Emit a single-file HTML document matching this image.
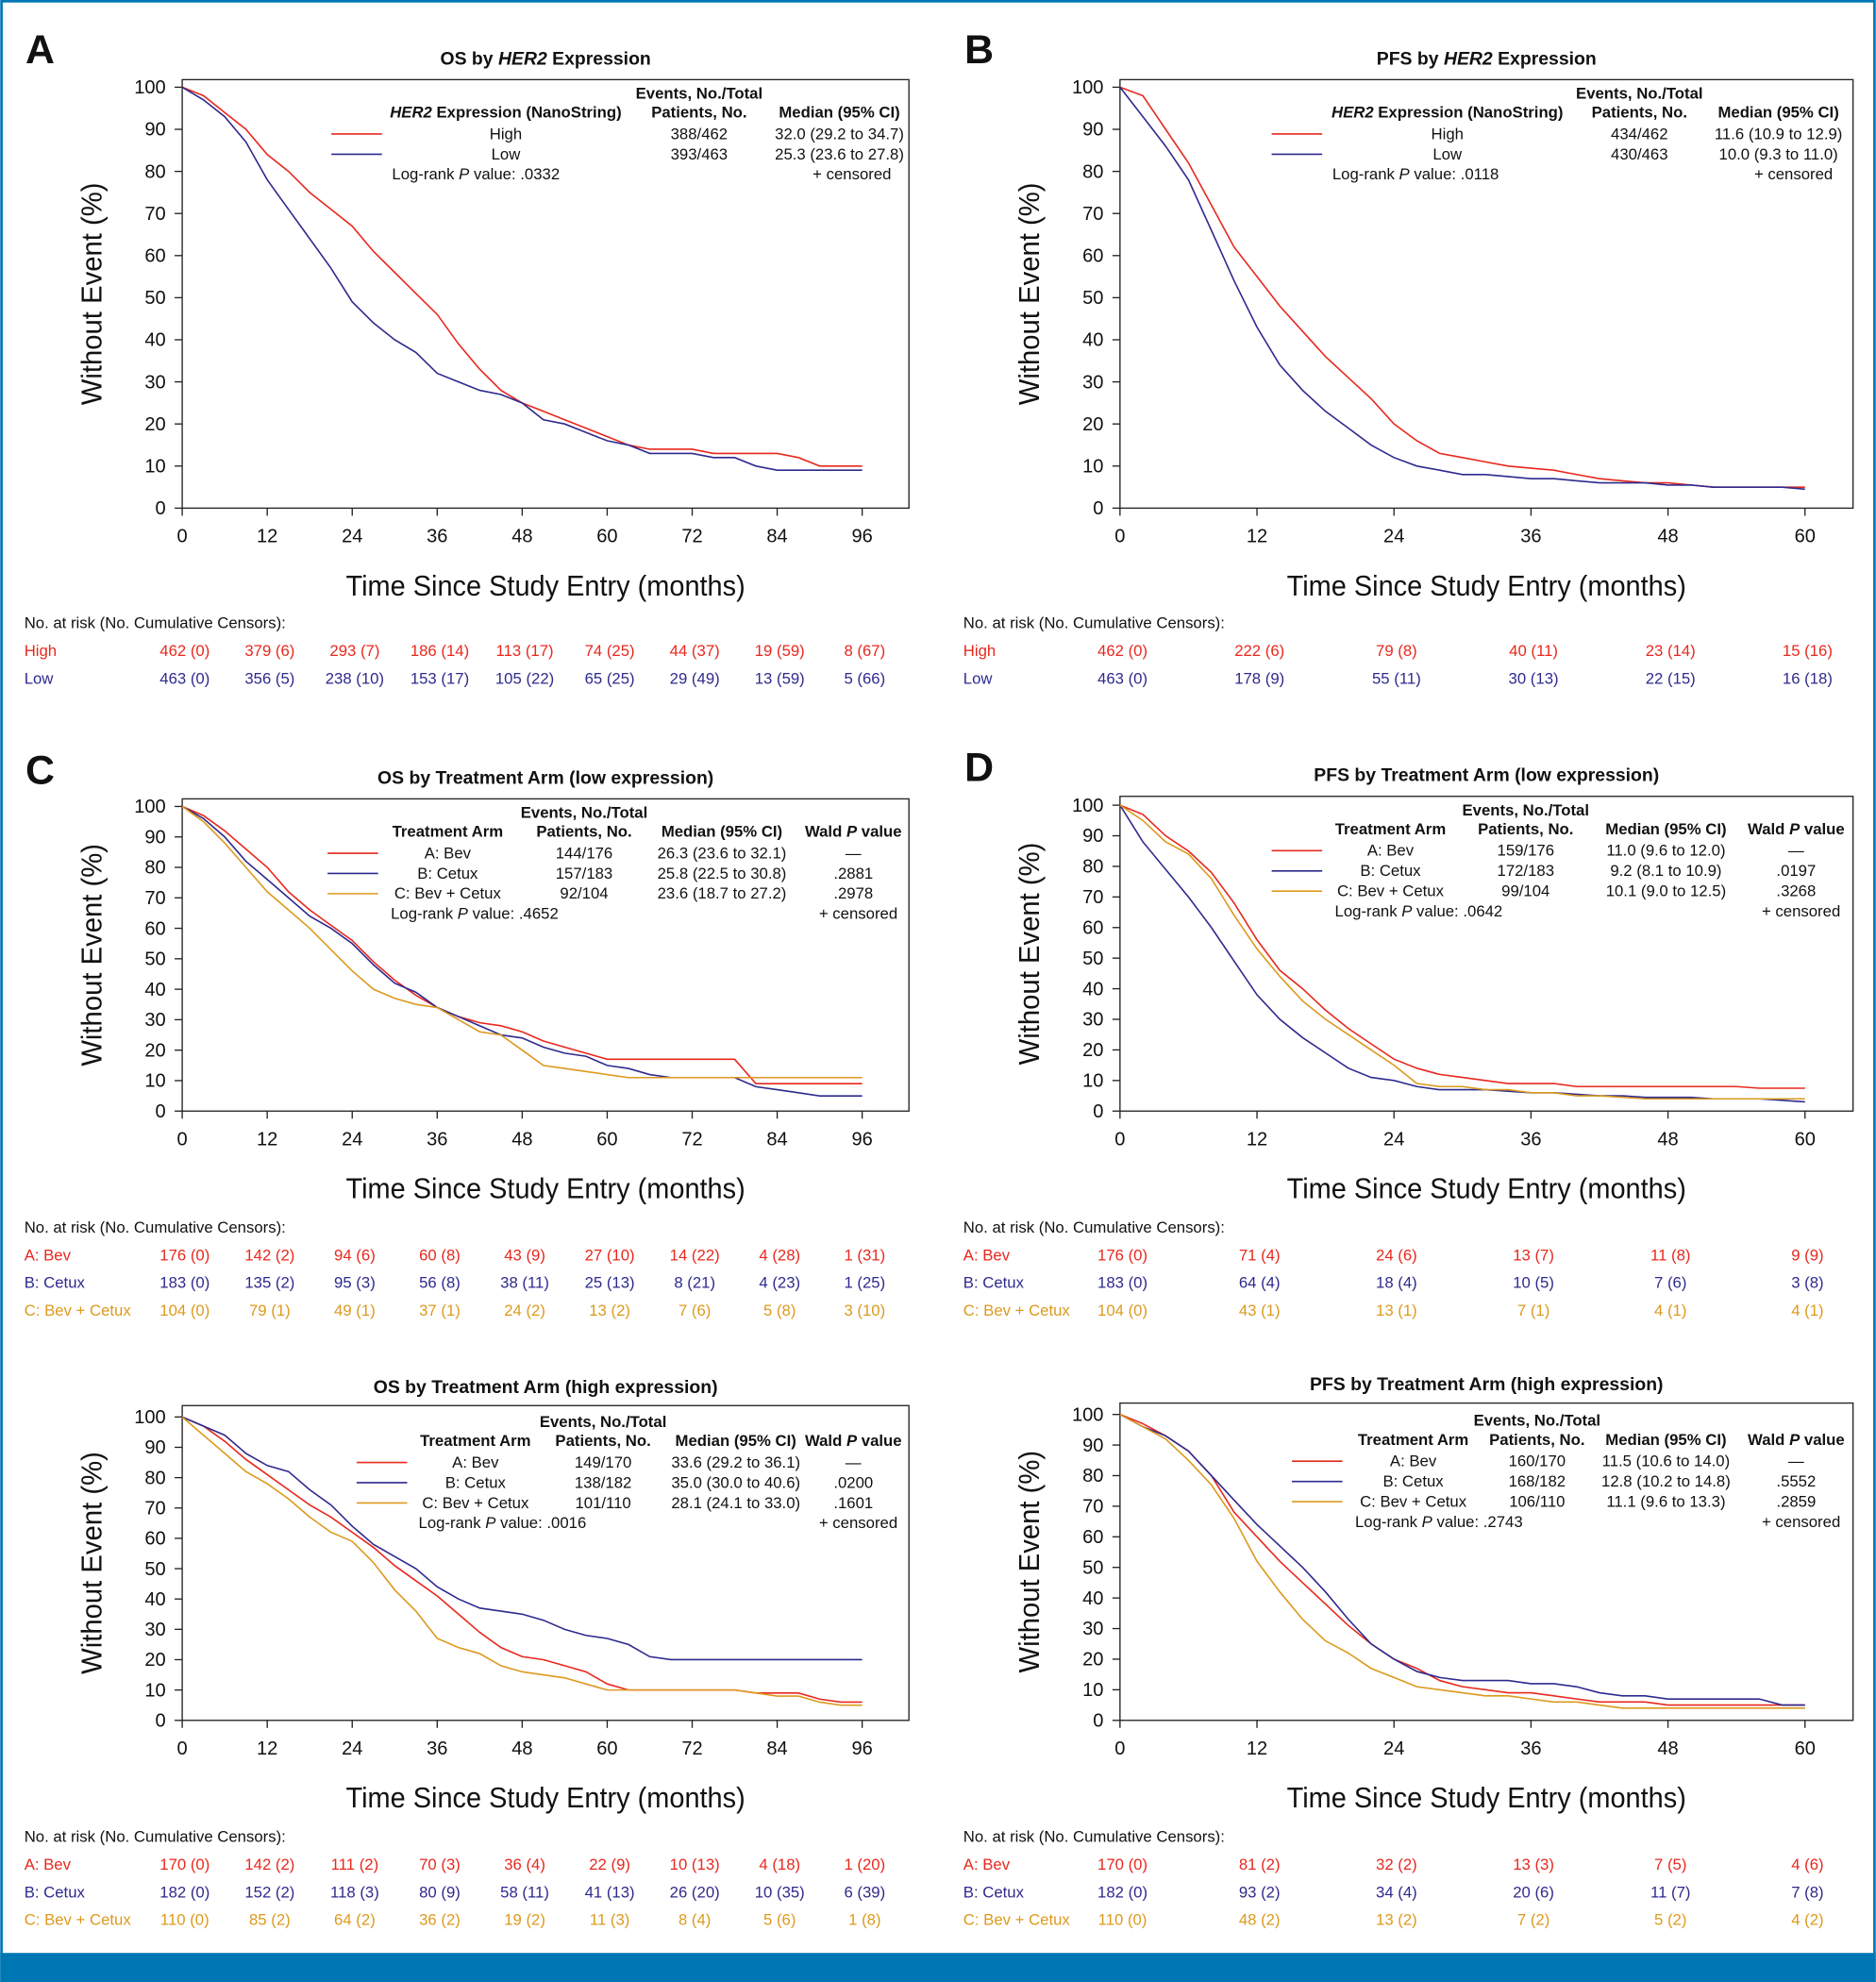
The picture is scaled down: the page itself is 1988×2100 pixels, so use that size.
<!DOCTYPE html>
<html><head><meta charset="utf-8">
<style>
html,body{margin:0;padding:0;background:#fff;}
svg{display:block;}
text{font-family:"Liberation Sans Narrow","Liberation Sans",sans-serif;}
</style></head>
<body>
<svg id="fig" xmlns="http://www.w3.org/2000/svg" width="1988" height="2100" viewBox="0 0 1484 1568">
<rect x="0" y="0" width="1484" height="1568" fill="#fff"/>
<rect x="1" y="1" width="1482" height="1566" fill="none" stroke="#0077b5" stroke-width="2"/>
<rect x="0" y="1545" width="1484" height="23" fill="#0077b5"/>
</svg>
<script>
// ---- data ----
const osTimes = [0,3,6,9,12,15,18,21,24,27,30,33,36,39,42,45,48,51,54,57,60,63,66,69,72,75,78,81,84,87,90,93,96];
const pfsTimes = [0,2,4,6,8,10,12,14,16,18,20,22,24,26,28,30,32,34,36,38,40,42,44,46,48,50,52,54,56,58,60];
const aHigh = [100,98,94,90,84,80,75,71,67,61,56,51,46,39,33,28,25,23,21,19,17,15,14,14,14,13,13,13,13,12,10,10,10];
const aLow  = [100,97,93,87,78,71,64,57,49,44,40,37,32,30,28,27,25,21,20,18,16,15,13,13,13,12,12,10,9,9,9,9,9];
const bHigh = [100,98,90,82,72,62,55,48,42,36,31,26,20,16,13,12,11,10,9.5,9,8,7,6.5,6,6,5.5,5,5,5,5,5];
const bLow  = [100,93,86,78,66,54,43,34,28,23,19,15,12,10,9,8,8,7.5,7,7,6.5,6,6,6,5.5,5.5,5,5,5,5,4.5];
const cBev  = [100,97,92,86,80,72,66,61,56,49,43,38,34,31,29,28,26,23,21,19,17,17,17,17,17,17,17,9,9,9,9,9,9];
const cCet  = [100,96,90,82,76,70,64,60,55,48,42,39,34,31,28,25,24,21,19,18,15,14,12,11,11,11,11,8,7,6,5,5,5];
const cBoth = [100,95,88,80,72,66,60,53,46,40,37,35,34,30,26,25,20,15,14,13,12,11,11,11,11,11,11,11,11,11,11,11,11];
const dBev  = [100,97,90,85,78,68,56,46,40,33,27,22,17,14,12,11,10,9,9,9,8,8,8,8,8,8,8,8,7.5,7.5,7.5];
const dCet  = [100,88,79,70,60,49,38,30,24,19,14,11,10,8,7,7,7,6.5,6,6,5.5,5,5,4.5,4.5,4.5,4,4,4,3.5,3];
const dBoth = [100,95,88,84,76,64,53,44,36,30,25,20,15,9,8,8,7,7,6,6,5,5,4.5,4,4,4,4,4,4,4,4];
const eBev  = [100,97,92,86,81,76,71,67,62,57,51,46,41,35,29,24,21,20,18,16,12,10,10,10,10,10,10,9,9,9,7,6,6];
const eCet  = [100,97,94,88,84,82,76,71,64,58,54,50,44,40,37,36,35,33,30,28,27,25,21,20,20,20,20,20,20,20,20,20,20];
const eBoth = [100,94,88,82,78,73,67,62,59,52,43,36,27,24,22,18,16,15,14,12,10,10,10,10,10,10,10,9,8,8,6,5,5];
const fBev  = [100,97,93,88,80,68,60,52,45,38,31,25,20,17,13,11,10,9,9,8,7,6,6,6,5,5,5,5,5,5,5];
const fCet  = [100,96,93,88,80,72,64,57,50,42,33,25,20,16,14,13,13,13,12,12,11,9,8,8,7,7,7,7,7,5,5];
const fBoth = [100,96,92,85,77,66,52,42,33,26,22,17,14,11,10,9,8,8,7,6,6,5,4,4,4,4,4,4,4,4,4];
const osTicks = [0,12,24,36,48,60,72,84,96];
const pfsTicks = [0,12,24,36,48,60];
const yTicks = [0,10,20,30,40,50,60,70,80,90,100];
const riskAHigh = ["462 (0)","379 (6)","293 (7)","186 (14)","113 (17)","74 (25)","44 (37)","19 (59)","8 (67)"];
const riskALow  = ["463 (0)","356 (5)","238 (10)","153 (17)","105 (22)","65 (25)","29 (49)","13 (59)","5 (66)"];
const riskBHigh = ["462 (0)","222 (6)","79 (8)","40 (11)","23 (14)","15 (16)"];
const riskBLow  = ["463 (0)","178 (9)","55 (11)","30 (13)","22 (15)","16 (18)"];
const riskCBev  = ["176 (0)","142 (2)","94 (6)","60 (8)","43 (9)","27 (10)","14 (22)","4 (28)","1 (31)"];
const riskCCet  = ["183 (0)","135 (2)","95 (3)","56 (8)","38 (11)","25 (13)","8 (21)","4 (23)","1 (25)"];
const riskCBoth = ["104 (0)","79 (1)","49 (1)","37 (1)","24 (2)","13 (2)","7 (6)","5 (8)","3 (10)"];
const riskDBev  = ["176 (0)","71 (4)","24 (6)","13 (7)","11 (8)","9 (9)"];
const riskDCet  = ["183 (0)","64 (4)","18 (4)","10 (5)","7 (6)","3 (8)"];
const riskDBoth = ["104 (0)","43 (1)","13 (1)","7 (1)","4 (1)","4 (1)"];
const riskEBev  = ["170 (0)","142 (2)","111 (2)","70 (3)","36 (4)","22 (9)","10 (13)","4 (18)","1 (20)"];
const riskECet  = ["182 (0)","152 (2)","118 (3)","80 (9)","58 (11)","41 (13)","26 (20)","10 (35)","6 (39)"];
const riskEBoth = ["110 (0)","85 (2)","64 (2)","36 (2)","19 (2)","11 (3)","8 (4)","5 (6)","1 (8)"];
const riskFBev  = ["170 (0)","81 (2)","32 (2)","13 (3)","7 (5)","4 (6)"];
const riskFCet  = ["182 (0)","93 (2)","34 (4)","20 (6)","11 (7)","7 (8)"];
const riskFBoth = ["110 (0)","48 (2)","13 (2)","7 (2)","5 (2)","4 (2)"];

const RED="#e8281e", BLUE="#2e2a8e", GOLD="#dc9a1e";
const svg=document.getElementById('fig');
const NS="http://www.w3.org/2000/svg";
function mk(tag,attrs,parent){const e=document.createElementNS(NS,tag);for(const k in attrs)e.setAttribute(k,attrs[k]);(parent||svg).appendChild(e);return e;}
function txt(x,y,s,size,opts,parent){opts=opts||{};const a={x:x,y:y,'font-size':size,'text-anchor':opts.anchor||'start','font-weight':opts.bold?'bold':'normal',style:'fill:'+(opts.fill||'#111')};if(opts.len){a.textLength=opts.len;a.lengthAdjust='spacingAndGlyphs';}const t=mk('text',a,parent);t.innerHTML=s;return t;}

function panel(cfg){
  const g=mk('g',{});
  
  
  const xs=t=>cfg.x0+(t/cfg.xmax)*(cfg.x1-cfg.x0);
  const ys=v=>cfg.y0-(v/100)*(cfg.y0-cfg.y100);
  const fr=mk('rect',{x:cfg.fl,y:cfg.ft,width:cfg.fr-cfg.fl,height:cfg.y0-cfg.ft,fill:'none',stroke:'#222','stroke-width':1},g);
  
  
  yTicks.forEach(v=>{
    mk('line',{x1:cfg.fl-6,x2:cfg.fl,y1:ys(v),y2:ys(v),stroke:'#222'},g);
    const t=txt(cfg.fl-13,ys(v)+5,String(v),15,{anchor:'end'},g);
    
    
  });
  cfg.ticks.forEach(v=>{
    mk('line',{x1:xs(v),x2:xs(v),y1:cfg.y0,y2:cfg.y0+6,stroke:'#222'},g);
    const t=txt(xs(v),cfg.y0+27,String(v),15,{anchor:'middle'},g);
    
    
  });
  const tt=txt((cfg.fl+cfg.fr)/2,cfg.titleY,cfg.title,14.5,{anchor:'middle',bold:true},g);
  
  
  const xt=txt((cfg.fl+cfg.fr)/2,cfg.y0+69,'Time Since Study Entry (months)',23,{anchor:'middle',len:316},g);
  
  
  const ym=(cfg.y0+cfg.ft)/2;
  const yt=txt(0,0,'Without Event (%)',23,{anchor:'middle',len:176},g);
  yt.setAttribute('transform','translate('+(cfg.fl-64)+','+ym+') rotate(-90)');
  
  
  cfg.series.forEach(s=>{
    let d='';
    s.vals.forEach((v,i)=>{d+=(i?'L':'M')+xs(s.times[i]).toFixed(1)+','+ys(v).toFixed(1);});
    const p=mk('path',{d:d,fill:'none',stroke:s.color,'stroke-width':1.2},g);
    
    
  });
  const rh=txt(cfg.riskX,cfg.riskY,'No. at risk (No. Cumulative Censors):',12.5,{},g);
  
  
  cfg.series.forEach((s,si)=>{
    const ry=cfg.riskY+22*(si+1);
    const l=txt(cfg.riskX,ry,s.label,12.5,{fill:s.color},g);
    
    
    s.risk.forEach((r,i)=>{
      const c=txt(xs(cfg.ticks[i])+2,ry,r,12.5,{anchor:'middle',fill:s.color},g);
      
      
    });
  });
  const L=cfg.legend;
  const lg=mk('g',{},g);
  
  
  txt(L.cols[1],L.y-15,'Events, No./Total',12.5,{anchor:'middle',bold:true},lg);
  L.heads.forEach((h,i)=>txt(L.cols[i],L.y,h,12.5,{anchor:'middle',bold:true},lg));
  L.rows.forEach((r,ri)=>{
    const yy=L.y+17+16*ri;
    const ln=mk('line',{x1:L.lx,x2:L.lx+40,y1:yy-4,y2:yy-4,stroke:cfg.series[ri].color,'stroke-width':1.2},lg);
    
    
    r.forEach((c,i)=>txt(L.cols[i],yy,c,12.5,{anchor:'middle'},lg));
  });
  const ly=L.y+17+16*L.rows.length;
  txt(L.lrx,ly,'Log-rank <tspan font-style="italic">P</tspan> value: '+L.p,12.5,{},lg);
  txt(L.cend,ly,'+  censored',12.5,{anchor:'end'},lg);
  if(cfg.letter){const lt=txt(cfg.letterX,cfg.letterY,cfg.letter,32,{bold:true},g);lt.setAttribute('font-family','Liberation Sans, sans-serif');}
}

const herHead='<tspan font-style="italic">HER2</tspan> Expression (NanoString)';
const armHeads=['Treatment Arm','Patients, No.','Median (95% CI)','Wald <tspan font-style="italic">P</tspan> value'];

panel({name:'panel-a-os-her2',title:'OS by <tspan font-style="italic">HER2</tspan> Expression',titleY:51,letter:'A',letterX:20,letterY:50,
  fl:144,fr:719,ft:63,x0:144,x1:682,y0:402,y100:69,xmax:96,ticks:osTicks,riskX:19,riskY:497,
  series:[{id:'high',color:RED,times:osTimes,vals:aHigh,label:'High',risk:riskAHigh},{id:'low',color:BLUE,times:osTimes,vals:aLow,label:'Low',risk:riskALow}],
  legend:{y:93,cols:[400,553,664],lx:262,heads:[herHead,'Patients, No.','Median (95% CI)'],rows:[['High','388/462','32.0 (29.2 to 34.7)'],['Low','393/463','25.3 (23.6 to 27.8)']],lrx:310,cend:705,p:'.0332'}});
panel({name:'panel-b-pfs-her2',title:'PFS by <tspan font-style="italic">HER2</tspan> Expression',titleY:51,letter:'B',letterX:763,letterY:50,
  fl:886,fr:1466,ft:63,x0:886,x1:1428,y0:402,y100:69,xmax:60,ticks:pfsTicks,riskX:762,riskY:497,
  series:[{id:'high',color:RED,times:pfsTimes,vals:bHigh,label:'High',risk:riskBHigh},{id:'low',color:BLUE,times:pfsTimes,vals:bLow,label:'Low',risk:riskBLow}],
  legend:{y:93,cols:[1145,1297,1407],lx:1006,heads:[herHead,'Patients, No.','Median (95% CI)'],rows:[['High','434/462','11.6 (10.9 to 12.9)'],['Low','430/463','10.0 (9.3 to 11.0)']],lrx:1054,cend:1450,p:'.0118'}});
panel({name:'panel-c-os-arm-low',title:'OS by Treatment Arm (low expression)',titleY:620,letter:'C',letterX:20,letterY:620,
  fl:144,fr:719,ft:632,x0:144,x1:682,y0:879,y100:638,xmax:96,ticks:osTicks,riskX:19,riskY:975,
  series:[{id:'bev',color:RED,times:osTimes,vals:cBev,label:'A: Bev',risk:riskCBev},{id:'cetux',color:BLUE,times:osTimes,vals:cCet,label:'B: Cetux',risk:riskCCet},{id:'bev-cetux',color:GOLD,times:osTimes,vals:cBoth,label:'C: Bev + Cetux',risk:riskCBoth}],
  legend:{y:662,cols:[354,462,571,675],lx:259,heads:armHeads,rows:[['A: Bev','144/176','26.3 (23.6 to 32.1)','—'],['B: Cetux','157/183','25.8 (22.5 to 30.8)','.2881'],['C: Bev + Cetux','92/104','23.6 (18.7 to 27.2)','.2978']],lrx:309,cend:710,p:'.4652'}});
panel({name:'panel-d-pfs-arm-low',title:'PFS by Treatment Arm (low expression)',titleY:618,letter:'D',letterX:763,letterY:618,
  fl:886,fr:1466,ft:630,x0:886,x1:1428,y0:879,y100:637,xmax:60,ticks:pfsTicks,riskX:762,riskY:975,
  series:[{id:'bev',color:RED,times:pfsTimes,vals:dBev,label:'A: Bev',risk:riskDBev},{id:'cetux',color:BLUE,times:pfsTimes,vals:dCet,label:'B: Cetux',risk:riskDCet},{id:'bev-cetux',color:GOLD,times:pfsTimes,vals:dBoth,label:'C: Bev + Cetux',risk:riskDBoth}],
  legend:{y:660,cols:[1100,1207,1318,1421],lx:1006,heads:armHeads,rows:[['A: Bev','159/176','11.0 (9.6 to 12.0)','—'],['B: Cetux','172/183','9.2 (8.1 to 10.9)','.0197'],['C: Bev + Cetux','99/104','10.1 (9.0 to 12.5)','.3268']],lrx:1056,cend:1456,p:'.0642'}});
panel({name:'panel-e-os-arm-high',title:'OS by Treatment Arm (high expression)',titleY:1102,
  fl:144,fr:719,ft:1112,x0:144,x1:682,y0:1361,y100:1121,xmax:96,ticks:osTicks,riskX:19,riskY:1457,
  series:[{id:'bev',color:RED,times:osTimes,vals:eBev,label:'A: Bev',risk:riskEBev},{id:'cetux',color:BLUE,times:osTimes,vals:eCet,label:'B: Cetux',risk:riskECet},{id:'bev-cetux',color:GOLD,times:osTimes,vals:eBoth,label:'C: Bev + Cetux',risk:riskEBoth}],
  legend:{y:1144,cols:[376,477,582,675],lx:282,heads:armHeads,rows:[['A: Bev','149/170','33.6 (29.2 to 36.1)','—'],['B: Cetux','138/182','35.0 (30.0 to 40.6)','.0200'],['C: Bev + Cetux','101/110','28.1 (24.1 to 33.0)','.1601']],lrx:331,cend:710,p:'.0016'}});
panel({name:'panel-f-pfs-arm-high',title:'PFS by Treatment Arm (high expression)',titleY:1100,
  fl:886,fr:1466,ft:1110,x0:886,x1:1428,y0:1361,y100:1119,xmax:60,ticks:pfsTicks,riskX:762,riskY:1457,
  series:[{id:'bev',color:RED,times:pfsTimes,vals:fBev,label:'A: Bev',risk:riskFBev},{id:'cetux',color:BLUE,times:pfsTimes,vals:fCet,label:'B: Cetux',risk:riskFCet},{id:'bev-cetux',color:GOLD,times:pfsTimes,vals:fBoth,label:'C: Bev + Cetux',risk:riskFBoth}],
  legend:{y:1143,cols:[1118,1216,1318,1421],lx:1022,heads:armHeads,rows:[['A: Bev','160/170','11.5 (10.6 to 14.0)','—'],['B: Cetux','168/182','12.8 (10.2 to 14.8)','.5552'],['C: Bev + Cetux','106/110','11.1 (9.6 to 13.3)','.2859']],lrx:1072,cend:1456,p:'.2743'}});
</script>
</body></html>
